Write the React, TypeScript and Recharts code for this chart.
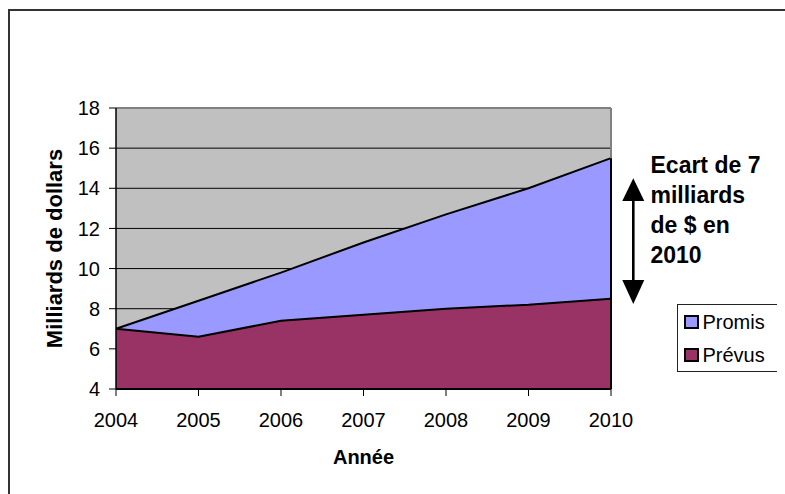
import React from 'react';
import { AreaChart, Area, XAxis, YAxis, CartesianGrid, ReferenceLine } from 'recharts';

const FONT = '"Liberation Sans", Arial, sans-serif';

const years = ['2004', '2005', '2006', '2007', '2008', '2009', '2010'];
const promis = [7, 8.4, 9.8, 11.3, 12.7, 14.0, 15.5];
const prevus = [7, 6.6, 7.4, 7.7, 8.0, 8.2, 8.5];
const yTicks = [4, 6, 8, 10, 12, 14, 16, 18];
const seriesNames = ['Promis', 'Prévus'];
const seriesKeys = ['promis', 'prevus'];
const seriesColors = ['#9999FF', '#993366'];
const annotationLines = ['Ecart de 7', 'milliards', 'de $ en', '2010'];
const xTitle = 'Année';
const yTitle = 'Milliards de dollars';

const data = years.map((y, i) => ({ year: y, promis: promis[i], prevus: prevus[i] }));

const LegendBox = () => (
  <div
    style={{
      position: 'absolute',
      left: 669,
      top: 296,
      width: 102,
      height: 68,
      boxSizing: 'border-box',
      border: '1px solid #222',
      background: '#fff',
      fontFamily: FONT,
    }}
  >
    {seriesNames.map((name, i) => {
      const center = 16.7 + i * 33.3;
      return (
        <React.Fragment key={name}>
          <div
            style={{
              position: 'absolute',
              left: 6,
              top: center - 7,
              width: 15,
              height: 14,
              boxSizing: 'border-box',
              border: '2px solid #000',
              background: seriesColors[i],
            }}
          />
          <div
            style={{
              position: 'absolute',
              left: 24.5,
              top: center - 10,
              fontSize: 20,
              lineHeight: '20px',
              color: '#000',
              whiteSpace: 'nowrap',
            }}
          >
            {name}
          </div>
        </React.Fragment>
      );
    })}
  </div>
);

export default function App() {
  return (
    <div
      style={{
        position: 'relative',
        width: 777,
        height: 478,
        overflow: 'hidden',
        fontFamily: FONT,
      }}
    >
      <AreaChart
        width={777}
        height={486}
        data={data}
        margin={{ top: 100, right: 174, bottom: 45, left: 0 }}
      >
        <CartesianGrid vertical={false} stroke="#000" strokeWidth={1} fill="#C0C0C0" />
        <XAxis
          dataKey="year"
          height={60}
          interval={0}
          tickSize={7}
          tickMargin={17}
          tick={{ fontSize: 20, fill: '#000', fontFamily: FONT }}
          axisLine={{ stroke: '#000', strokeWidth: 2 }}
          tickLine={{ stroke: '#000', strokeWidth: 1 }}
          label={{
            value: xTitle,
            content: (props: any) => {
              const vb = props.viewBox || {};
              return (
                <text
                  x={vb.x + vb.width / 2}
                  y={vb.y + 75.3}
                  textAnchor="middle"
                  fontSize={20}
                  fontWeight="bold"
                  fontFamily={FONT}
                  fill="#000"
                >
                  {xTitle}
                </text>
              );
            },
          }}
        />
        <YAxis
          type="number"
          domain={[4, 18]}
          ticks={yTicks}
          interval={0}
          width={108}
          tickSize={7}
          tickMargin={9}
          tick={{ fontSize: 20, fill: '#000', fontFamily: FONT }}
          axisLine={{ stroke: '#000', strokeWidth: 1.5 }}
          tickLine={{ stroke: '#000', strokeWidth: 1 }}
          label={{
            value: yTitle,
            content: (props: any) => {
              const vb = props.viewBox || {};
              const cx = vb.x + 53.5;
              const cy = vb.y + vb.height / 2;
              return (
                <text
                  x={cx}
                  y={cy}
                  transform={`rotate(-90, ${cx}, ${cy})`}
                  textAnchor="middle"
                  fontSize={22}
                  fontWeight="bold"
                  fontFamily={FONT}
                  fill="#000"
                >
                  {yTitle}
                </text>
              );
            },
          }}
        />
        {seriesKeys.map((k, i) => (
          <Area
            key={k}
            type="linear"
            dataKey={k}
            name={seriesNames[i]}
            fill={seriesColors[i]}
            fillOpacity={1}
            stroke="#000"
            strokeWidth={2}
            dot={false}
            activeDot={false}
            isAnimationActive={false}
          />
        ))}
        <ReferenceLine y={18} stroke="#808080" strokeWidth={2} />
        <ReferenceLine x={years[years.length - 1]} stroke="#808080" strokeWidth={2} />
        <ReferenceLine
          segment={[
            { x: years[years.length - 1], y: 4 },
            { x: years[years.length - 1], y: promis[promis.length - 1] },
          ]}
          stroke="#000"
          strokeWidth={2}
        />
      </AreaChart>
      <LegendBox />
      <svg
        width={777}
        height={486}
        style={{ position: 'absolute', left: 0, top: 0, pointerEvents: 'none' }}
      >
        <polygon points="625.3,170.3 614.3,193 636.3,193" fill="#000" />
        <line x1={625.3} y1={192} x2={625.3} y2={273} stroke="#000" strokeWidth={2.6} />
        <polygon points="614.3,272 636.3,272 625.3,296" fill="#000" />
        {annotationLines.map((t, i) => (
          <text
            key={i}
            x={642.5}
            y={165 + i * 30}
            fontSize={23}
            fontWeight="bold"
            fontFamily={FONT}
            fill="#000"
          >
            {t}
          </text>
        ))}
      </svg>
      <div
        style={{
          position: 'fixed',
          left: 8,
          top: 9,
          width: 777,
          height: 2,
          background: '#333',
        }}
      />
      <div
        style={{
          position: 'fixed',
          left: 8,
          top: 9,
          width: 2,
          height: 485,
          background: '#333',
        }}
      />
    </div>
  );
}
